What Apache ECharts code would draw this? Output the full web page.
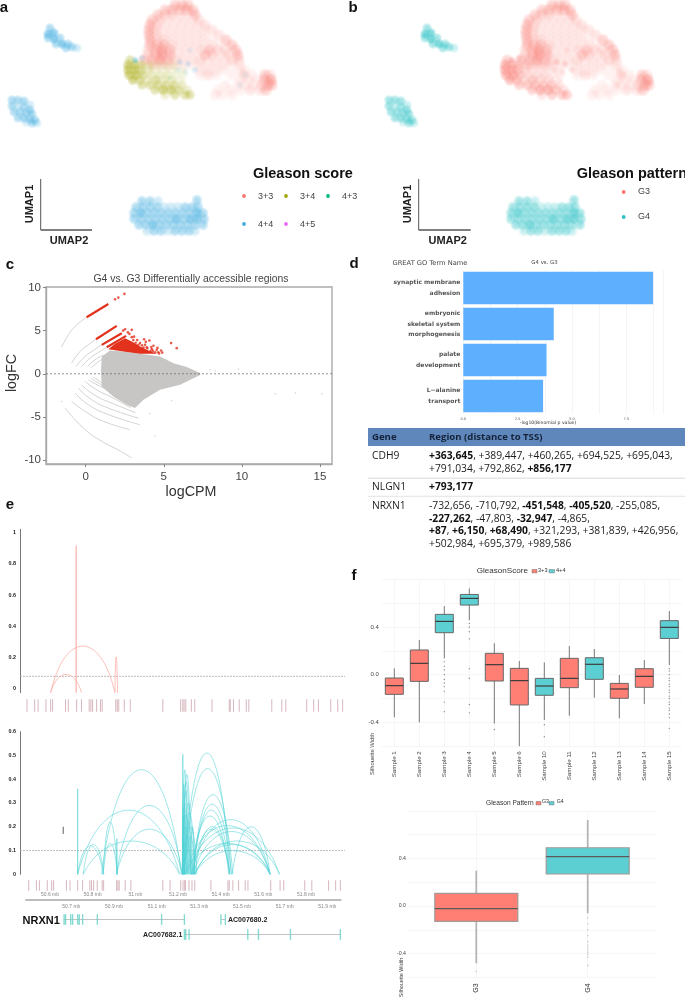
<!DOCTYPE html>
<html><head><meta charset="utf-8">
<style>html,body{margin:0;padding:0;background:#fff}#c{width:685px;height:997px;filter:blur(.3px)}</style>
<script src="https://cdn.jsdelivr.net/npm/echarts@6/dist/echarts.min.js"></script>
</head><body><div id="c"></div>
<script>
// ---------- UMAP density cells [umap x, umap y, density 1-4]
const cloudRed = [
[175,5,3],[182,5,3],[188,5,3],
[165,10,3],[172,10,3],[180,10,3],[187,10,3],[193,10,3],
[158,15,3],[165,15,2],[172,15,2],[180,15,1],[187,15,1],[195,15,3],
[152,20,3],[160,20,2],[168,20,1],[176,20,1],[184,20,1],[192,20,1],[199,20,2],
[150,25,3],[157,25,2],[165,25,1],[173,25,1],[181,25,1],[189,25,1],[197,25,1],[205,25,2],
[149,30,3],[156,30,2],[164,30,1],[172,30,1],[180,30,1],[188,30,1],[196,30,1],[204,30,1],[212,30,2],
[149,35,3],[156,35,2],[164,35,1],[172,35,1],[180,35,1],[188,35,1],[196,35,1],[204,35,1],[219,35,2],
[150,40,3],[157,40,2],[164,40,2],[172,40,1],[180,40,1],[188,40,1],[196,40,1],[204,40,1],[212,40,1],[226,40,3],
[150,45,3],[157,45,3],[164,45,3],[172,45,2],[180,45,1],[188,45,1],[196,45,1],[204,45,1],[212,45,1],[220,45,1],[232,45,3],
[148,50,2],[155,50,3],[162,50,4],[170,50,3],[178,50,1],[186,50,1],[194,50,1],[202,50,2],[210,50,3],[218,50,2],[226,50,2],[236,50,3],
[148,55,2],[155,55,3],[162,55,4],[170,55,3],[178,55,1],[186,55,1],[194,55,1],[205,55,3],[212,55,2],[220,55,1],[228,55,2],[238,55,3],
[144,60,3],[152,60,3],[160,60,4],[168,60,3],[176,60,2],[184,60,1],[192,60,1],[200,60,2],[208,60,1],[216,60,1],[224,60,1],[232,60,2],[239,60,2],
[152,65,2],[160,65,2],[168,65,2],[176,65,1],[184,65,1],[192,65,1],[200,65,1],[208,65,1],[216,65,1],[224,65,1],[232,65,1],[240,65,1],
[200,70,1],[208,70,1],[216,70,1],[224,70,1],[240,70,1],[245,70,1],
[200,75,1],[208,75,2],[216,75,1],[232,75,1],[244,75,2],[252,75,1],[265,75,3],[270,75,2],
[240,80,1],[248,80,1],[256,80,1],[264,80,3],[271,80,4],
[225,85,1],[238,85,1],[246,85,1],[254,85,1],[262,85,2],[268,85,3],[272,85,3],
[218,90,1],[230,90,1],[240,90,1],[250,90,2],[260,90,2],[266,90,3],
[215,95,1],[222,95,1],[232,95,1]];
const cloudOlive = [
[130,60,3],
[128,65,4],[135,65,4],[142,65,3],[150,65,2],[158,65,1],[166,65,1],[174,65,1],
[128,70,4],[135,70,4],[142,70,3],[150,70,2],[158,70,1],[166,70,1],[174,70,1],[182,70,1],
[129,75,4],[136,75,4],[143,75,3],[151,75,2],[159,75,2],[167,75,2],[175,75,1],[183,75,1],
[133,80,4],[140,80,3],[148,80,2],[156,80,3],[164,80,2],[172,80,2],[180,80,1],
[142,85,3],[150,85,3],[158,85,3],[166,85,3],[174,85,3],[182,85,2],
[155,90,3],[163,90,4],[171,90,4],[179,90,3],[187,90,2],
[165,95,2],[175,95,3],[185,95,3],[190,95,3]];
const cloudBlue = [[135,60,3],[142,58,2],[180,62,2],[188,64,2],[178,70,1],[186,72,1],[195,70,2],[190,50,1],[245,75,1],[240,85,1]];
const cloudGreen = [[136,61,2],[170,78,1]];
const blob1 = [[50,28,3],[48,34,4],[54,33,4],[48,38,3],[54,39,4],[60,38,3],[56,44,3],[62,44,4],[68,44,3],[66,48,3],[72,47,3],[77,48,2]];
const blob2 = [[12,100,3],[18,100,3],[24,101,3],[30,105,2],[12,106,3],[18,106,2],[24,107,3],[30,110,3],[14,112,3],[20,112,3],[26,113,3],[32,114,3],[18,118,3],[24,118,3],[30,119,3],[35,120,3],[26,122,2],[32,123,3],[37,123,2]];
const blob3 = [[142,201,3],[150,201,3],[158,201,2],[197,200,3],
[136,207,3],[143,207,3],[150,207,3],[157,207,3],[164,207,2],[171,207,2],[178,207,2],[185,207,3],[192,207,3],[198,207,3],
[134,213,3],[141,213,4],[148,213,3],[155,213,3],[162,213,3],[169,213,3],[176,213,3],[183,213,3],[190,213,3],[197,213,4],[203,213,3],
[134,219,3],[141,219,3],[148,219,3],[155,219,3],[162,219,3],[169,219,3],[176,219,4],[183,219,3],[190,219,4],[197,219,4],[204,219,3],
[139,225,3],[146,225,3],[153,225,4],[160,225,3],[167,225,3],[174,225,3],[181,225,3],[188,225,3],[195,225,3],[203,225,3],
[147,231,2],[154,231,3],[161,231,3],[168,231,2],[175,231,3],[182,231,3],[189,231,3],[195,231,2]];
const scoreNames = ['3+3','3+4','4+3','4+4','4+5'];
const scoreColors = ['#f8766d','#a3a500','#00bf7d','#45aee0','#e76bf3'];
const patternNames = ['G3','G4'];
const patternColors = ['#f8766d','#2cc1c5'];

// ---------- MA plot
const maxTicks = [0,5,10,15], mayTicks = [-10,-5,0,5,10];
const greyMass = [[1.03,2.0],[1.56,2.7],[2.52,2.54],[3.48,2.31],[4.76,2.0],[5.62,1.23],[6.47,.77],[7.33,.08],[7.33,-.15],[6.05,-1.27],[4.76,-1.85],[3.7,-3.0],[3.16,-3.97],[2.63,-3.58],[1.77,-2.62],[1.03,-1.46],[.98,.3]];
const redMass = [[1.45,2.85],[1.88,3.47],[2.52,4.12],[2.95,3.74],[3.48,3.16],[4.02,2.7],[4.55,2.31],[3.48,2.31],[2.52,2.54]];
const greyArcs = [
[[-1.54,3.08],[-1.11,4.5],[-.68,5.47],[.06,6.55]],
[[-.9,1.23],[-.36,2.58],[.17,3.35],[.66,4.0]],
[[-.62,.85],[-.04,2.0],[.49,2.7],[1.03,3.35]],
[[-.26,.85],[.28,1.81],[.81,2.47],[1.35,3.08]],
[[.11,.85],[.6,1.62],[1.13,2.2]],
[[.35,.7],[.75,1.3],[1.1,1.75]],
[[-1.32,-3.97],[-.15,-6.28],[.92,-7.7],[2.24,-8.98],[2.95,-9.75]],
[[-.9,-3.2],[-.04,-4.35],[1.13,-5.5],[2.84,-6.47]],
[[-.68,-2.23],[.17,-3.58],[1.35,-4.66],[3.48,-5.9]],
[[-.47,-1.66],[.38,-3.0],[1.56,-4.05],[3.38,-5.13]],
[[-.26,-1.27],[.6,-2.5],[1.77,-3.47],[3.2,-4.5]],
[[-.04,-.89],[.81,-1.97],[1.56,-2.62],[2.9,-3.95]],
[[.17,-.7],[.92,-1.46],[1.35,-1.85],[2.4,-3.1]],
[[.35,-.55],[.8,-1.05],[1.15,-1.45]],
[[.5,-.4],[.8,-.75],[1.05,-1.05]]];
const redStreaks = [[[.06,6.55],[1.45,8.08]],[[.66,4.0],[1.99,5.55]],[[1.03,3.35],[2.31,4.7]],[[1.35,3.08],[2.59,4.39]]];
const redPoints = [[1.88,8.63],[2.09,8.82],[2.48,9.25],[2.52,5.16],[2.95,5.09],[2.8,4.62],[2.95,4.24],[3.74,4.0],[4.08,3.85],[5.47,3.55],[5.83,2.97],[4.34,3.24],[4.83,2.7],[3.91,3.08],[3.48,3.55],[3.38,3.35],[4.55,2.77],[4.23,2.85],[3.8,3.35],[3.59,2.85],
[3.05,3.9],[3.2,3.6],[3.3,3.9],[3.6,3.3],[3.7,3.05],[3.95,2.95],[4.15,2.6],[4.3,2.65],[4.45,2.5],[4.65,2.5],[4.7,2.35],[4.9,2.45],[4.6,3.0],[3.1,4.3],[2.7,4.8],[2.4,5.0],[3.25,3.25],[3.85,3.7],[4.2,3.1]];
const greyPoints = [[7.97,.46],[8.3,.3],[9.79,.54],[10.75,.27],[12.14,-2.31],[13.42,-2.23],[15.13,-2.31],[4.44,-7.24],[-1.54,-3.2],[5.5,-3.1],[4.1,-4.6]];

// ---------- GO bars
const goTerms = ['synaptic membrane\nadhesion','embryonic\nskeletal system\nmorphogenesis','palate\ndevelopment','L\u2212alanine\ntransport'];
const goValues = [8.73,4.16,3.83,3.67];
const tableHead = ['Gene','Region (distance to TSS)'];
const tableRows = [
 ['CDH9',['{b|+363,645}, +389,447, +460,265, +694,525, +695,043,','+791,034, +792,862, {b|+856,177}']],
 ['NLGN1',['{b|+793,177}']],
 ['NRXN1',['-732,656, -710,792, {b|-451,548}, {b|-405,520}, -255,085,','{b|-227,262}, -47,803, {b|-32,947}, -4,865,','{b|+87}, {b|+6,150}, {b|+68,490}, +321,293, +381,839, +426,956,','+502,984, +695,379, +989,586']]];

// ---------- coaccessibility arcs [from mb, to mb, peak]
const arcsG3 = [[50.603,50.905,.285],[50.603,50.748,.112],[50.723,50.723,.9],[50.905,50.917,.22]];
const arcsG4 = [[50.73,51.209,.27],[50.842,51.217,.44],[50.912,51.222,.29],[50.912,51.222,.19],[50.756,51.209,.14],
[50.73,50.85,.12],[50.756,50.853,.125],[50.85,50.916,.13],[50.85,50.916,.22],[50.912,50.916,.15],[50.73,50.73,.36],
[51.222,51.226,.505],[51.222,51.245,.44],[51.225,51.262,.42],[51.222,51.258,.39],[51.222,51.235,.38],[51.228,51.25,.35],[51.23,51.27,.3],[51.225,51.24,.3],[51.23,51.28,.26],[51.222,51.255,.25],[51.235,51.265,.22],[51.225,51.25,.2],[51.23,51.29,.2],[51.24,51.28,.16],[51.225,51.245,.13],[51.23,51.27,.1],[51.222,51.228,.28],[51.224,51.232,.24],[51.228,51.26,.17],[51.26,51.28,.2],
[51.23,51.444,.51],[51.23,51.452,.445],[51.272,51.459,.335],[51.272,51.452,.295],[51.272,51.444,.27],[51.264,51.44,.245],[51.264,51.634,.23],[51.233,51.634,.205],[51.241,51.678,.195],[51.272,51.634,.18],[51.233,51.634,.13],[51.28,51.678,.14],[51.28,51.634,.125],[51.28,51.634,.1],[51.456,51.634,.2],[51.28,51.444,.2],[51.272,51.444,.19]];
const peaksG3 = [50.492,50.528,50.544,50.581,50.603,50.612,50.673,50.686,50.725,50.748,50.784,50.792,50.8,50.819,50.837,50.845,50.909,50.916,50.923,50.949,50.977,51.13,51.214,51.224,51.23,51.238,51.264,51.28,51.361,51.442,51.447,51.462,51.489,51.522,51.534,51.642,51.689,51.708,51.806,51.839,51.861,51.919,51.952,51.975];
const peaksG4 = [50.5,50.536,50.55,50.587,50.608,50.617,50.677,50.694,50.73,50.753,50.787,50.795,50.805,50.822,50.845,50.852,50.913,50.919,50.925,50.953,50.98,51.13,51.164,51.214,51.225,51.233,51.236,51.253,51.267,51.28,51.356,51.436,51.442,51.459,51.486,51.517,51.53,51.637,51.681,51.698,51.797,51.83,51.909,51.942,51.964];
const mbUpper = [50.6,50.8,51,51.2,51.4,51.6,51.8];
const mbLower = [50.7,50.9,51.1,51.3,51.5,51.7,51.9];
const exonsNRXN1 = [50.666,50.673,50.697,50.706,50.73,50.737,50.753,50.822,51.123,51.23];
const exons680 = [51.401,51.422];
const exons682 = [51.23,51.236,51.252,51.527,51.577,51.727,51.961];

// ---------- silhouette boxes [lo,q1,median,q3,hi]
const samples = ['Sample 1','Sample 2','Sample 3','Sample 4','Sample 5','Sample 6','Sample 10','Sample 11','Sample 12','Sample 13','Sample 14','Sample 15'];
const sampleGroup = [0,0,1,1,0,0,1,0,1,0,0,1];
const sampleBoxes = [[-.357,-.165,-.092,-.028,.053],[-.4,-.056,.095,.207,.29],[.137,.352,.447,.506,.575],[.458,.584,.64,.673,.723],[-.41,-.053,.084,.179,.263],[-.6,-.254,-.05,.053,.115],[-.38,-.173,-.095,-.031,.103],[-.344,-.109,-.031,.137,.24],[-.193,-.039,.087,.142,.215],[-.366,-.198,-.12,-.073,-.003],[-.246,-.106,-.014,.05,.123],[.08,.304,.397,.453,.534]];
const sampleOutliers = [[2,.11],[2,.07],[2,.04],[2,0],[2,-.04],[2,-.07],[2,-.1],[2,-.14],[2,-.23],[2,-.31],[3,.43],[3,.4],[3,.36],[3,.3],[3,.05],[3,-.03],[3,-.25],[3,-.32],[4,-.46],[6,-.42],[6,-.52],[11,.05],[11,.03],[11,0],[11,-.03],[11,-.05],[11,-.08],[11,-.1],[11,-.13],[11,-.15],[11,-.18],[11,-.2],[11,-.23],[11,-.25],[11,-.28],[11,-.3],[11,-.33],[11,-.36],[11,-.45]];
const patterns = ['G3','G4'];
const patternBoxes = [[-.482,-.129,-.022,.106,.297],[-.062,.269,.415,.49,.723]];
const patternOutliers = [[0,-.55],[1,-.1],[1,-.15],[1,-.2],[1,-.25],[1,-.3],[1,-.33],[1,-.35],[1,-.37],[1,-.39],[1,-.41],[1,-.43],[1,-.5]];

// ---------- helpers
const grid=[],xAxis=[],yAxis=[],series=[],graphic=[];
function panel(g,x,y){grid.push(Object.assign({containLabel:false},g));const i=grid.length-1;xAxis.push(Object.assign({gridIndex:i},x));yAxis.push(Object.assign({gridIndex:i},y));return i;}
const off={show:false};
function hiddenVal(min,max,extra){return Object.assign({type:'value',min,max,show:false,splitLine:off},extra||{});}
function T(x,y,text,o){graphic.push({type:'text',x,y,rotation:(o&&o.rot)||0,silent:true,style:Object.assign({text,fontFamily:'Liberation Sans',fontSize:10,fill:'#222',align:'left',verticalAlign:'middle'},o&&o.st||{})});}
function R(x,y,w,h,fill,extra){graphic.push(Object.assign({type:'rect',silent:true,shape:{x,y,width:w,height:h},style:{fill}},extra||{}));}
function L(x1,y1,x2,y2,stroke,w){graphic.push({type:'line',silent:true,shape:{x1,y1,x2,y2},style:{stroke,lineWidth:w}});}
function rgba(hex,a){const n=parseInt(hex.slice(1),16);return `rgba(${n>>16},${(n>>8)&255},${n&255},${a})`;}
function dots(i,cells,color,size,gain){const op={1:.14,2:.26,3:.44,4:.62},g=gain||1;series.push({type:'scatter',xAxisIndex:i,yAxisIndex:i,silent:true,symbolSize:size,data:cells.map(c=>({value:[c[0],c[1]],itemStyle:{color:{type:'radial',x:.5,y:.5,r:.5,colorStops:[{offset:0,color:rgba(color,op[c[2]]*g)},{offset:.55,color:rgba(color,op[c[2]]*.7*g)},{offset:1,color:rgba(color,0)}]}}}))});}
function line(i,data,color,w,o){series.push(Object.assign({type:'line',xAxisIndex:i,yAxisIndex:i,silent:true,showSymbol:false,symbol:'none',data,lineStyle:{color,width:w},z:2},o||{}));}
function poly(i,pts,color,z){series.push({type:'custom',xAxisIndex:i,yAxisIndex:i,silent:true,z,data:pts,renderItem:(p,api)=>p.dataIndex?null:{type:'polygon',shape:{points:pts.map(q=>api.coord(q))},style:{fill:color}}});}
function arcs(i,list,color,w,op){series.push({type:'custom',xAxisIndex:i,yAxisIndex:i,silent:true,z:3,encode:{x:[0,1],y:2},data:list,renderItem:(p,api)=>{
 const a=api.coord([api.value(0),0]),b=api.coord([api.value(1),0]),t=api.coord([api.value(0),api.value(2)]);
 const dx=(b[0]-a[0])*.22,h=a[1]-(a[1]-t[1])*4/3;
 return {type:'bezierCurve',shape:{x1:a[0],y1:a[1],x2:b[0],y2:b[1],cpx1:a[0]+dx,cpy1:h,cpx2:b[0]-dx,cpy2:h},style:{stroke:color,fill:null,lineWidth:w,opacity:op}};
}});}
function ticks(i,vals,y,color,h,w){series.push({type:'scatter',xAxisIndex:i,yAxisIndex:i,silent:true,symbol:'rect',symbolSize:[w||1,h],data:vals.map(v=>[v,y]),itemStyle:{color,opacity:.85}});}
function boxes(i,list,groups,bw,style){series.push({type:'custom',xAxisIndex:i,yAxisIndex:i,silent:true,z:3,encode:{x:0,y:[1,2,3,4,5]},data:list.map((b,k)=>[k].concat(b)),renderItem:(p,api)=>{
 const k=api.value(0),c=y=>api.coord([k,y]),lo=c(api.value(1)),q1=c(api.value(2)),md=c(api.value(3)),q3=c(api.value(4)),hi=c(api.value(5));
 const x=lo[0],col=groups[k];
 return {type:'group',children:[
  {type:'line',shape:{x1:x,y1:lo[1],x2:x,y2:hi[1]},style:{stroke:style.wh,lineWidth:style.whW}},
  {type:'rect',shape:{x:x-bw/2,y:q3[1],width:bw,height:q1[1]-q3[1]},style:{fill:col,stroke:style.border,lineWidth:style.bW}},
  {type:'line',shape:{x1:x-bw/2,y1:md[1],x2:x+bw/2,y2:md[1]},style:{stroke:style.med,lineWidth:style.mW}}]};
}});}

// ---------- a & b : UMAPs
const umapX={type:'value',min:0,max:308,show:false,splitLine:off}, umapY={type:'value',min:0,max:240,inverse:true,show:false,splitLine:off};
const ga=panel({left:0,top:0,width:308,height:240},umapX,umapY);
dots(ga,cloudRed,scoreColors[0],14);dots(ga,cloudOlive,scoreColors[1],12);dots(ga,cloudBlue,scoreColors[3],8);dots(ga,cloudGreen,scoreColors[2],6);
dots(ga,blob1,scoreColors[3],11,1.35);dots(ga,blob2,scoreColors[3],11,1.35);dots(ga,blob3,scoreColors[3],12,1.35);
const gb=panel({left:377,top:0,width:308,height:240},umapX,umapY);
dots(gb,cloudRed,patternColors[0],14);dots(gb,cloudOlive,patternColors[0],13);dots(gb,cloudBlue,patternColors[0],8);
dots(gb,blob1,patternColors[1],11,1.35);dots(gb,blob2,patternColors[1],11,1.35);dots(gb,blob3,patternColors[1],12,1.35);
const lb={fontFamily:'Liberation Sans',fontWeight:'bold',fontSize:15,fill:'#111',align:'center'};
[['a',4,8],['b',353,8],['c',10,265],['d',354,264],['e',10,505],['f',354,576]].forEach(a=>T(a[1],a[2],a[0],{st:lb}));
const um={fontFamily:'Liberation Sans',fontWeight:'bold',fontSize:11,fill:'#222',align:'center'};
L(40.7,179,40.7,230,'#555',1);L(40.7,230,92,230,'#555',1.4);L(418.7,179,418.7,230,'#555',1);L(418.7,230,470.7,230,'#555',1.4);
T(30,204,'UMAP1',{rot:Math.PI/2,st:um});T(69,241,'UMAP2',{st:um});T(407.7,204,'UMAP1',{rot:Math.PI/2,st:um});T(447.7,241,'UMAP2',{st:um});
const lgT={fontFamily:'Liberation Sans',fontWeight:'bold',fontSize:14.5,fill:'#111'};
T(253,174,'Gleason score',{st:lgT});T(576.7,174,'Gleason pattern',{st:lgT});
const lgP=[[244,196],[286,196],[328,196],[244,224],[286,224]];
scoreNames.forEach((n,i)=>{graphic.push({type:'circle',silent:true,shape:{cx:lgP[i][0],cy:lgP[i][1],r:1.9},style:{fill:scoreColors[i]}});T(lgP[i][0]+14,lgP[i][1]+.5,n,{st:{fontSize:9,fill:'#444'}});});
patternNames.forEach((n,i)=>{const y=192+i*25;graphic.push({type:'circle',silent:true,shape:{cx:623.7,cy:y,r:1.9},style:{fill:patternColors[i]}});T(638,y,n,{st:{fontSize:9,fill:'#444'}});});

// ---------- c : MA plot
const cLabel={color:'#444',fontFamily:'Liberation Sans',fontSize:11.5};
const gc=panel({left:46,top:287,width:286,height:177,show:true,borderColor:'#aaa',borderWidth:1.4,backgroundColor:'#fff'},
 {type:'value',min:-2.54,max:15.77,splitLine:off,axisLine:{onZero:false,lineStyle:{color:'#aaa',width:1.4}},axisTick:{customValues:maxTicks,length:3,lineStyle:{color:'#888'}},axisLabel:Object.assign({customValues:maxTicks,margin:7},cLabel)},
 {type:'value',min:-10.45,max:10.05,splitLine:off,axisLine:{onZero:false,lineStyle:{color:'#aaa',width:1.4}},axisTick:{customValues:mayTicks,length:3,lineStyle:{color:'#888'}},axisLabel:Object.assign({customValues:mayTicks,margin:5},cLabel)});
greyArcs.forEach(a=>line(gc,a,'#c9c7c5',.8,{smooth:true}));
poly(gc,greyMass,'#c8c6c4',3);poly(gc,redMass,'#e2311d',4);
redStreaks.forEach(a=>line(gc,a,'#e2311d',2.2,{z:4}));
series.push({type:'scatter',xAxisIndex:gc,yAxisIndex:gc,silent:true,z:4,symbolSize:2.6,data:redPoints,itemStyle:{color:'#e2311d'}});
series.push({type:'scatter',xAxisIndex:gc,yAxisIndex:gc,silent:true,z:2,symbolSize:1.5,data:greyPoints,itemStyle:{color:'#c8c6c4'}});
line(gc,[[-2.54,0],[15.77,0]],'#666',.7,{z:5,lineStyle:{color:'#666',width:.7,type:[2,2]}});
T(191,279,'G4 vs. G3 Differentially accessible regions',{st:{fontSize:10.4,fill:'#444',align:'center'}});
T(191,492,'logCPM',{st:{fontSize:14.3,fill:'#333',align:'center'}});
T(12,373,'logFC',{rot:Math.PI/2,st:{fontSize:14.3,fill:'#333',align:'center'}});

// ---------- d : GO bars and table
const gd=panel({left:463.3,top:270,width:200,height:144},
 {type:'value',min:0,max:9.2,interval:1.25,axisLine:off,axisTick:off,splitLine:{lineStyle:{color:'#f1f1f1',width:.7}},axisLabel:{fontSize:3.5,color:'#555',margin:3,fontFamily:'DejaVu Sans',formatter:v=>v%2.5===0?v.toFixed(1):''}},
 {type:'category',inverse:true,data:goTerms,axisLine:off,axisTick:off,splitLine:{show:false},axisLabel:{fontSize:6,lineHeight:10.7,color:'#555',margin:3,fontFamily:'DejaVu Sans',fontWeight:'bold'}});
series.push({type:'bar',xAxisIndex:gd,yAxisIndex:gd,silent:true,barWidth:32.4,data:goValues,itemStyle:{color:'#5eaffe'}});
T(430,263.7,'GREAT GO Term Name',{st:{fontFamily:'DejaVu Sans',fontSize:6.7,fill:'#444',align:'center'}});
T(544.5,262.5,'G4 vs. G3',{st:{fontFamily:'DejaVu Sans',fontSize:5.4,fill:'#444',align:'center'}});
T(548,423,'-log10(Binomial p value)',{st:{fontFamily:'DejaVu Sans',fontSize:4.6,fill:'#333',align:'center'}});
R(368,428,317,18,'#5f87bb');
const tf={fontFamily:'Open Sans',fontSize:10.3,fill:'#1c1c1c'};
const th=Object.assign({},tf,{fontSize:9.6,fontWeight:'bold',fill:'#14233a'});
T(372,437.5,tableHead[0],{st:th});
T(429,437.5,tableHead[1],{st:th});
const rowY=[[456,469],[487],[506,519,531,544]];
tableRows.forEach((r,i)=>{T(372,rowY[i][0],r[0],{st:tf});r[1].forEach((s,j)=>T(429,rowY[i][j],s,{st:Object.assign({},tf,{rich:{b:{fontFamily:'Open Sans',fontSize:10.3,fontWeight:'bold',fill:'#111'}}})}));});
R(368,477.5,317,1.6,'#e6e6e6');R(368,495.8,317,1,'#e2e2e2');

// ---------- e : tracks
const mbX={type:'value',min:50.459,max:51.986,show:false,splitLine:off};
const axL={show:true,onZero:false,lineStyle:{color:'#777',width:1}};
const eLab={fontSize:5.4,fontWeight:'bold',color:'#222',margin:4,fontFamily:'Liberation Sans'};
const ge1=panel({left:20,top:529.3,width:325,height:163.4},mbX,{type:'value',min:0,max:1,interval:.2,splitLine:off,axisTick:off,axisLine:axL,axisLabel:off});
panel({left:20,top:532.7,width:325,height:156.3},mbX,{type:'value',min:0,max:1,interval:.2,splitLine:off,axisTick:off,axisLine:off,axisLabel:Object.assign({},eLab,{formatter:v=>String(+v.toFixed(1))})});
line(ge1,[[50.459,.1],[51.986,.1]],'#aaa',.8,{lineStyle:{color:'#b3a9a9',width:.8,type:[2,1]}});
arcs(ge1,arcsG3,'#ffb0aa',.8,1);
const ge1t=panel({left:20,top:699,width:325,height:13},mbX,hiddenVal(0,1));ticks(ge1t,peaksG3,.5,'#cfa9b2',12.5);
const ge2=panel({left:20,top:731.7,width:325,height:142.6},mbX,{type:'value',min:0,max:.6,interval:.1,splitLine:off,axisTick:off,axisLine:axL,axisLabel:Object.assign({},eLab,{formatter:v=>String(+v.toFixed(1))})});
line(ge2,[[50.459,.1],[51.986,.1]],'#aaa',.8,{lineStyle:{color:'#b3a9a9',width:.8,type:[2,1]}});
arcs(ge2,arcsG4,'#52d3d6',.8,.7);
line(ge2,[[50.662,.17],[50.662,.2]],'#333',.8);
const ge2t=panel({left:20,top:880,width:325,height:11},mbX,hiddenVal(0,1));ticks(ge2t,peaksG4,.5,'#cfa9b2',10.7);
const gaxX={type:'value',min:50.4875,max:51.9625,splitLine:off,axisTick:off};
const gax=panel({left:26,top:898.5,width:314.7,height:1},Object.assign({},gaxX,{position:'bottom',axisLine:{show:true,onZero:false,lineStyle:{color:'#bdbdbd',width:2}},axisLabel:{customValues:mbLower,fontSize:5,color:'#888',margin:5,hideOverlap:false,formatter:v=>v+' mb'}}),hiddenVal(0,1));
const gt=panel({left:26,top:912,width:314.7,height:30},Object.assign({},gaxX,{show:false}),hiddenVal(0,2,{inverse:true}));
line(gt,[[exonsNRXN1[0],.5],[exonsNRXN1[9],.5]],'#a9a9a9',.7);
line(gt,[[exons680[0],.5],[exons680[1],.5]],'#a9a9a9',.7);
line(gt,[[exons682[0],1.5],[exons682[6],1.5]],'#a9a9a9',.7);
ticks(gt,exonsNRXN1,.5,'#6fd3c9',10.7,1.4);ticks(gt,exons680,.5,'#6fd3c9',10.7,1.4);ticks(gt,exons682,1.5,'#6fd3c9',10.7,1.4);
const gn={fontFamily:'Liberation Sans',fontWeight:'bold',fontSize:7,fill:'#222'};
T(22.5,920.5,'NRXN1',{st:{fontFamily:'Liberation Sans',fontWeight:'bold',fontSize:11,fill:'#111'}});
T(228,920.5,'AC007680.2',{st:gn});T(143,935,'AC007682.1',{st:gn});

// ---------- f : silhouette boxplots
const red='#ff7f75',teal='#5ccfd2',gridC='#f2f2f2';
const gf=panel({left:381.8,top:579.3,width:300,height:166.9},
 {type:'category',data:samples,axisLine:off,axisTick:off,splitLine:{show:true,alignWithLabel:true,interval:0,lineStyle:{color:gridC,width:.7}},axisLabel:{rotate:90,interval:0,fontSize:6.2,color:'#444',margin:5,fontFamily:'Liberation Sans'}},
 {type:'value',min:-.6,max:.8,interval:.2,axisLine:off,axisTick:off,splitLine:{lineStyle:{color:gridC,width:.7}},axisLabel:{fontSize:6,color:'#444',margin:3,fontFamily:'Liberation Sans',formatter:v=>Math.abs(Math.abs(v)-.4)<.01||Math.abs(v)<.01?v.toFixed(1):''}});
series.push({type:'scatter',xAxisIndex:gf,yAxisIndex:gf,silent:true,symbolSize:1.3,data:sampleOutliers,itemStyle:{color:'#666'},z:2});
boxes(gf,sampleBoxes,sampleGroup.map(g=>g?teal:red),18,{wh:'#777',whW:1,border:'#666',bW:1,med:'#3c3c3c',mW:1.2});
T(372,754,'Silhouette Width',{rot:Math.PI/2,st:{fontSize:5.8,fill:'#444',align:'center'}});
T(476.7,570.7,'GleasonScore',{st:{fontSize:8.1,fill:'#333'}});
R(532,569.5,5,3.4,red,{style:{fill:red,stroke:'#777',lineWidth:.5}});T(538,570.5,scoreNames[0],{st:{fontSize:5.6,fill:'#333'}});
R(549,569.5,5.5,3.4,teal,{style:{fill:teal,stroke:'#777',lineWidth:.5}});T(556,570.5,scoreNames[3],{st:{fontSize:5.6,fill:'#333'}});

const gbg=panel({left:408,top:810.9,width:248,height:166.4},{type:'value',min:0,max:1,show:false,splitLine:off},{type:'value',min:-.6,max:.8,interval:.2,axisLine:off,axisTick:off,splitLine:{lineStyle:{color:gridC,width:.7}},axisLabel:{fontSize:5.2,color:'#444',margin:2,fontFamily:'Liberation Sans',formatter:v=>Math.abs(Math.abs(v)-.4)<.01||Math.abs(v)<.01?v.toFixed(1):''}});
const gg=panel({left:420.6,top:810.9,width:222.8,height:166.4},
 {type:'category',data:patterns,axisLine:off,axisTick:off,splitLine:{show:true,alignWithLabel:true,interval:0,lineStyle:{color:gridC,width:.7}},axisLabel:{rotate:90,fontSize:7,color:'#333',margin:6,fontFamily:'Liberation Sans'}},
 {type:'value',min:-.6,max:.8,show:false,splitLine:off});
series.push({type:'scatter',xAxisIndex:gg,yAxisIndex:gg,silent:true,symbolSize:1.6,data:patternOutliers,itemStyle:{color:'#bdbdbd'},z:2});
boxes(gg,patternBoxes,[red,teal],83,{wh:'#b5b5b5',whW:1.8,border:'#a09a98',bW:1.2,med:'#5a5a5a',mW:1.4});
T(402,977.5,'Silhouette Width',{rot:Math.PI/2,st:{fontSize:5.4,fill:'#444',align:'center'}});
T(486,802.7,'Gleason Pattern',{st:{fontSize:6.6,fill:'#333'}});
R(536,801.5,5,3.4,red,{style:{fill:red,stroke:'#777',lineWidth:.5}});T(542,802,patternNames[0],{st:{fontSize:5.2,fill:'#333'}});
R(549,801.5,5,3.4,teal,{style:{fill:teal,stroke:'#777',lineWidth:.5}});T(556.7,802,patternNames[1],{st:{fontSize:5.2,fill:'#333'}});

// second, label-only genomic axis above the ruler (pushed last so axis indexes stay equal to grid indexes)
xAxis.push(Object.assign({gridIndex:gax},gaxX,{position:'top',axisLine:off,axisLabel:{customValues:mbUpper,fontSize:5,color:'#888',margin:1,hideOverlap:false,formatter:v=>v+' mb'}}));

const chart=echarts.init(document.getElementById('c'),null,{renderer:'canvas'});
chart.setOption({animation:false,backgroundColor:'#fff',tooltip:{show:false},grid,xAxis,yAxis,series,graphic:{elements:graphic}});
</script></body></html>
